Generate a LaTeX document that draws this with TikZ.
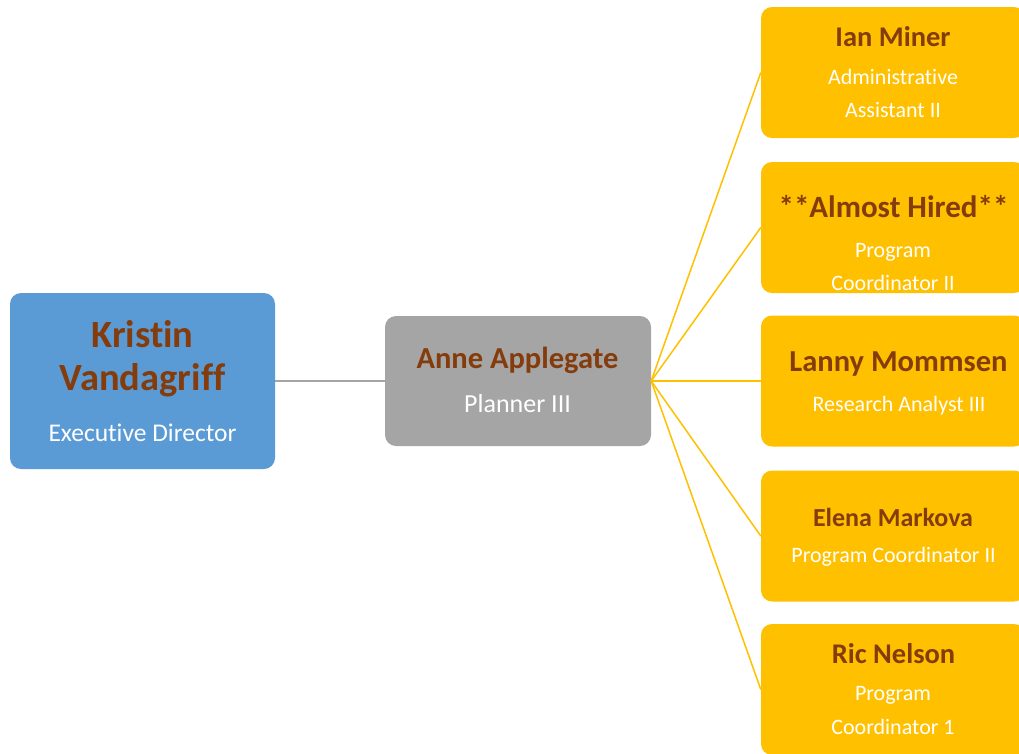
\documentclass[tikz,border=0pt]{standalone}
\usepackage{fontspec}
\setmainfont{Carlito}[RawFeature={-liga;-clig;-calt;-dlig}]
\definecolor{dirblue}{HTML}{5B9BD5}
\definecolor{mgrgray}{HTML}{A5A5A5}
\definecolor{staffgold}{HTML}{FFC000}
\definecolor{namebrown}{HTML}{843C0C}
% break a letter pair that the font would otherwise join
\newcommand{\nolig}{\kern0pt}
\tikzset{
  card/.style={draw=none, rounded corners=11pt, inner sep=0pt},
  dircard/.style={card, fill=dirblue, minimum width=265pt, minimum height=176pt},
  mgrcard/.style={card, fill=mgrgray, minimum width=266pt, minimum height=130pt},
  staffcard/.style={card, fill=staffgold, minimum width=264pt, minimum height=131pt},
  pname/.style={anchor=base, inner sep=0pt, text=namebrown, font=\bfseries\fontsize{#1}{#1}\selectfont},
  prole/.style={anchor=base, inner sep=0pt, text=white, font=\fontsize{#1}{#1}\selectfont},
  mgrlink/.style={draw=mgrgray, line width=1.8pt},
  stafflink/.style={draw=staffgold, line width=1.5pt}
}
\begin{document}
\begin{tikzpicture}[x=1pt, y=-1pt]
\useasboundingbox (0,0) rectangle (1019,753);
\clip (0,0) rectangle (1019,753);

% cards
\node[dircard] (kv) at (142.5,381) {};
\node[mgrcard] (aa) at (518,381) {};
\node[staffcard] (im) at (893,72.5) {};
\node[staffcard] (ah) at (893,227.5) {};
\node[staffcard] (lm) at (893,381) {};
\node[staffcard] (em) at (893,536) {};
\node[staffcard] (rn) at (893,689.5) {};

% connectors
\draw[mgrlink] (kv.east) -- (aa.west);
\foreach \s in {im,ah,lm,em,rn}
  \draw[stafflink] (aa.east) -- (\s.west);

% director
\node[pname=38.5] (kv1) at (142.5,347) {Krist\nolig in};
\node[pname=38.5] (kv2) at (142.5,390) {Vandagrif\nolig f};
\node[prole=25.5] (kv3) at (142.5,441) {Execut\nolig ive Director};

% manager
\node[pname=30.5] (aa1) at (517.5,368) {Anne Applegate};
\node[prole=26] (aa2) at (517.5,412) {Planner III};

% staff
\node[pname=28.5] (im1) at (893,46) {Ian Miner};
\node[prole=22] (im2) at (893,84) {Administrat\nolig ive};
\node[prole=22] (im3) at (893,117) {Assistant II};

\node[pname=31] (ah1) at (893.5,217) {**Almost Hired**};
\node[prole=22] (ah2) at (893,257) {Program};
\node[prole=22] (ah3) at (893,290) {Coordinator II};

\node[pname=30.5] (lm1) at (898.5,371) {Lanny Mommsen};
\node[prole=22] (lm2) at (899,411) {Research Analyst III};

\node[pname=26] (em1) at (893,526) {Elena Markova};
\node[prole=22] (em2) at (893.5,562) {Program Coordinator II};

\node[pname=28.5] (rn1) at (893.5,663) {Ric Nelson};
\node[prole=22] (rn2) at (893,700) {Program};
\node[prole=22] (rn3) at (893,734) {Coordinator 1};
\end{tikzpicture}
\end{document}
